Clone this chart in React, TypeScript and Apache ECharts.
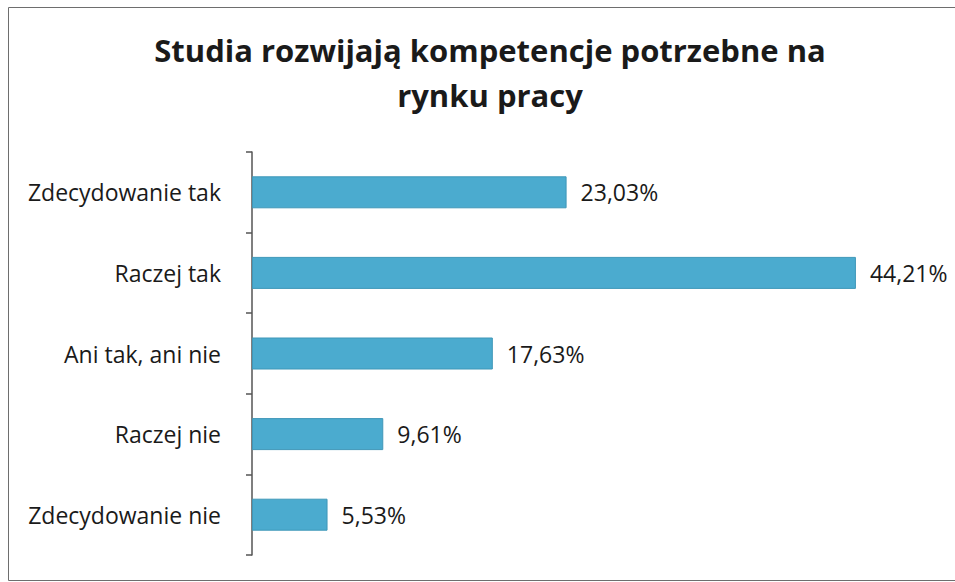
import React, { useEffect, useRef } from "react";
import * as echarts from "echarts";

const TITLE = "Studia rozwijają kompetencje potrzebne na\nrynku pracy";
const categories = [
  "Zdecydowanie tak",
  "Raczej tak",
  "Ani tak, ani nie",
  "Raczej nie",
  "Zdecydowanie nie",
];
const values = [23.03, 44.21, 17.63, 9.61, 5.53];

const FONT = "'Open Sans', 'Noto Sans', sans-serif";

export default function App() {
  const ref = useRef<HTMLDivElement>(null);
  useEffect(() => {
    if (!ref.current) return;
    const chart = echarts.init(ref.current, null, { renderer: "svg" });
    chart.setOption({
      animation: false,
      backgroundColor: "#ffffff",
      title: {
        text: TITLE,
        left: 485,
        top: 22,
        textAlign: "center",
        textStyle: {
          fontFamily: FONT,
          fontSize: 31,
          fontWeight: "bold",
          color: "#1a1a1a",
          lineHeight: 45,
        },
      },
      graphic: [
        {
          type: "rect",
          shape: { x: 8.5, y: 7.5, width: 960, height: 573 },
          style: { fill: "none", stroke: "#6e6e6e", lineWidth: 1 },
          silent: true,
        },
      ],
      grid: { left: 252, top: 152, width: 683, height: 403, containLabel: false },
      xAxis: {
        type: "value",
        min: 0,
        max: 50,
        show: false,
        splitLine: { show: false },
      },
      yAxis: {
        type: "category",
        data: categories,
        inverse: true,
        axisLine: { show: true, lineStyle: { color: "#555555", width: 1.5 } },
        axisTick: { show: true, length: 6, lineStyle: { color: "#555555", width: 1.5 } },
        axisLabel: {
          margin: 31,
          fontFamily: FONT,
          fontSize: 23,
          color: "#1a1a1a",
        },
        splitLine: { show: false },
      },
      series: [
        {
          type: "bar",
          data: values,
          barWidth: 32,
          itemStyle: { color: "#4babcf", borderColor: "#3f97b8", borderWidth: 1 },
          label: {
            show: true,
            position: "right",
            distance: 14,
            fontFamily: FONT,
            fontSize: 23,
            color: "#1a1a1a",
            formatter: (p: any) => p.value.toFixed(2).replace(".", ",") + "%",
          },
        },
      ],
    });
    return () => chart.dispose();
  }, []);
  return (
    <div
      ref={ref}
      style={{ position: "absolute", left: 0, top: 0, width: 955, height: 582 }}
    />
  );
}
